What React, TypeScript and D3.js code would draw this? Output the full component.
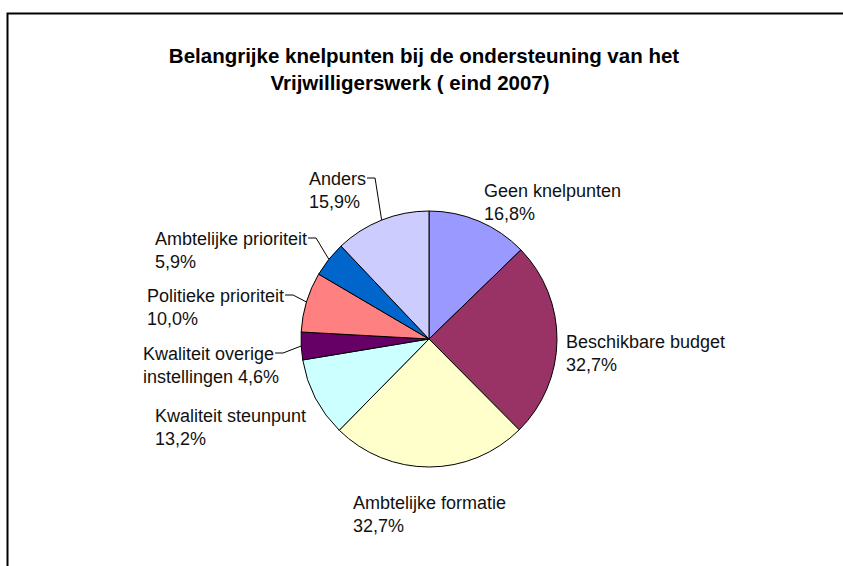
import React, { useRef, useEffect } from 'react';
import * as d3 from 'd3';

const categories = [
  'Geen knelpunten',
  'Beschikbare budget',
  'Ambtelijke formatie',
  'Kwaliteit steunpunt',
  'Kwaliteit overige instellingen',
  'Politieke prioriteit',
  'Ambtelijke prioriteit',
  'Anders',
];
const values = [16.8, 32.7, 32.7, 13.2, 4.6, 10.0, 5.9, 15.9];
const labelLines = [
  ['Geen knelpunten', '16,8%'],
  ['Beschikbare budget', '32,7%'],
  ['Ambtelijke formatie', '32,7%'],
  ['Kwaliteit steunpunt', '13,2%'],
  ['Kwaliteit overige', 'instellingen 4,6%'],
  ['Politieke prioriteit', '10,0%'],
  ['Ambtelijke prioriteit', '5,9%'],
  ['Anders', '15,9%'],
];
const colors = ['#9999FF', '#993366', '#FFFFCC', '#CCFFFF', '#660066', '#FF8080', '#0066CC', '#CCCCFF'];
const titleLines = ['Belangrijke knelpunten bij de ondersteuning van het', 'Vrijwilligerswerk ( eind 2007)'];

// label placement (x of text start, baseline of first line) and whether a leader line is drawn
const labelPos = [
  { x: 484, y: 197, leader: false },
  { x: 566, y: 348, leader: false },
  { x: 353, y: 509, leader: false },
  { x: 155, y: 422, leader: false },
  { x: 143, y: 360, leader: true },
  { x: 147, y: 302, leader: true },
  { x: 155, y: 245, leader: true },
  { x: 309, y: 185, leader: true },
];

const W = 843, H = 566;
const cx = 429, cy = 339, R = 128;
const font = '"Liberation Sans", Arial, sans-serif';

const App = () => {
  const ref = useRef<SVGSVGElement>(null);

  useEffect(() => {
    const svg = d3.select(ref.current);
    svg.selectAll('*').remove();

    // frame
    svg.append('path')
      .attr('d', `M7.5,${H} V13.5 H${W}`)
      .attr('fill', 'none')
      .attr('stroke', '#000')
      .attr('stroke-width', 2);

    // title
    const titleX = [424, 410];
    svg.selectAll('text.title')
      .data(titleLines)
      .join('text')
      .attr('class', 'title')
      .attr('x', (d, i) => titleX[i])
      .attr('y', (d, i) => 63 + i * 27)
      .attr('text-anchor', 'middle')
      .attr('font-family', font)
      .attr('font-weight', 'bold')
      .attr('font-size', 20.5)
      .text(d => d);

    const pie = d3.pie<number>().sort(null).value(d => d);
    const arcs = pie(values);
    const arc = d3.arc<d3.PieArcDatum<number>>().innerRadius(0).outerRadius(R);
    const edge = d3.arc<d3.PieArcDatum<number>>().innerRadius(R).outerRadius(R);

    const g = svg.append('g').attr('transform', `translate(${cx},${cy})`);
    g.selectAll('path')
      .data(arcs)
      .join('path')
      .attr('d', arc)
      .attr('fill', (d, i) => colors[i])
      .attr('stroke', '#000')
      .attr('stroke-width', 1);

    // labels
    const labels = svg.append('g');
    arcs.forEach((a, i) => {
      const p = labelPos[i];
      const t = labels.append('text')
        .attr('font-family', font)
        .attr('font-size', 18)
        .attr('fill', '#111');
      labelLines[i].forEach((ln, j) => {
        t.append('tspan').attr('x', p.x).attr('y', p.y + j * 23).text(ln);
      });
      if (p.leader) {
        const first = t.select('tspan').node() as SVGTSpanElement;
        const w = first.getComputedTextLength();
        const [ex, ey] = edge.centroid(a);
        const x0 = p.x + w + 1, y0 = p.y - 7;
        labels.append('path')
          .attr('d', `M${x0},${y0} H${x0 + 8} L${cx + ex},${cy + ey}`)
          .attr('fill', 'none')
          .attr('stroke', '#000')
          .attr('stroke-width', 1);
      }
    });
  }, []);

  return (
    <svg ref={ref} width={W} height={H} style={{ position: 'absolute', left: 0, top: 0, background: '#fff' }} />
  );
};

export default App;
